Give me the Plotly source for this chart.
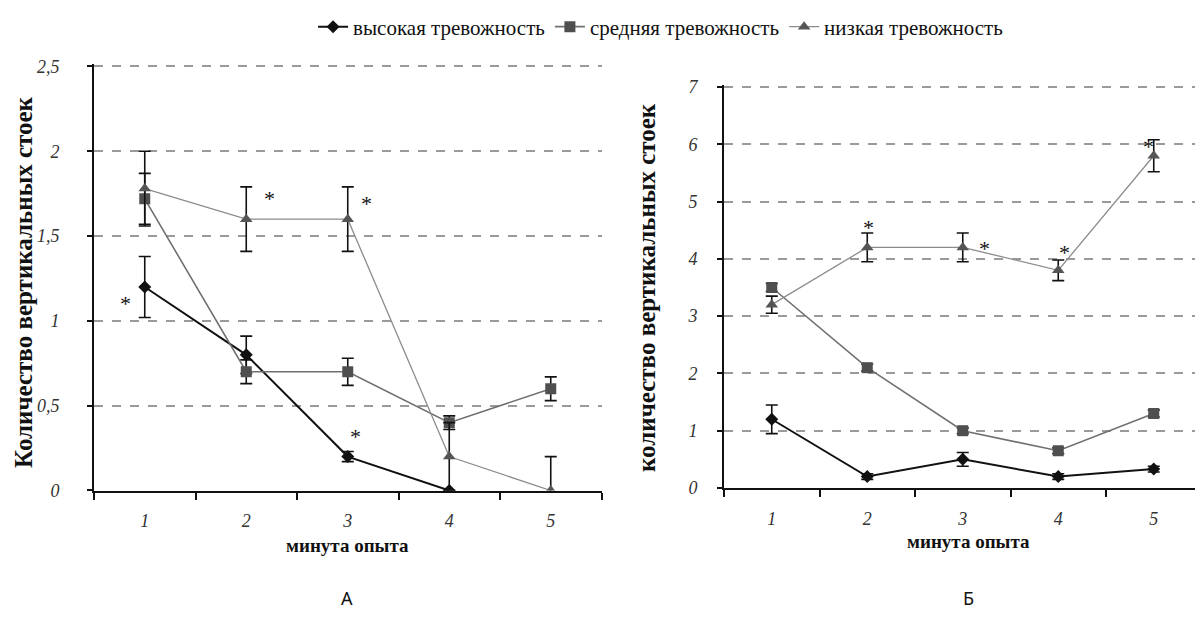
import plotly.graph_objects as go

# ---- data -------------------------------------------------------------
minutes = [1, 2, 3, 4, 5]
tick_text_x = ["1", "2", "3", "4", "5"]

series_names = ["высокая тревожность", "средняя тревожность", "низкая тревожность"]

# panel A
a_high = [1.2, 0.8, 0.2, 0.0, None]
a_high_err = [0.18, 0.11, 0.03, 0.0, 0.0]
a_mid = [1.72, 0.7, 0.7, 0.4, 0.6]
a_mid_err = [0.15, 0.07, 0.08, 0.04, 0.07]
a_low = [1.78, 1.6, 1.6, 0.2, 0.0]
a_low_err = [0.22, 0.19, 0.19, 0.2, 0.2]

# panel Б
b_high = [1.2, 0.2, 0.5, 0.2, 0.33]
b_high_err = [0.25, 0.05, 0.12, 0.05, 0.05]
b_mid = [3.5, 2.1, 1.0, 0.65, 1.3]
b_mid_err = [0.07, 0.06, 0.05, 0.05, 0.06]
b_low = [3.2, 4.2, 4.2, 3.8, 5.8]
b_low_err = [0.15, 0.25, 0.25, 0.18, 0.28]

a_yticks = [0, 0.5, 1, 1.5, 2, 2.5]
a_yticktext = ["0", "0,5", "1", "1,5", "2", "2,5"]
b_yticks = [0, 1, 2, 3, 4, 5, 6, 7]
b_yticktext = ["0", "1", "2", "3", "4", "5", "6", "7"]

# significance marks (x in minute units, y in data units)
a_stars_x = [0.81, 2.23, 3.18, 3.08]
a_stars_y = [1.13, 1.75, 1.72, 0.35]
b_stars_x = [2.01, 3.23, 4.07, 4.94]
b_stars_y = [4.64, 4.26, 4.20, 6.04]

x_title = "минута опыта"
a_ytitle = "Количество вертикальных стоек"
b_ytitle = "количество вертикальных стоек"
panel_labels = ["А", "Б"]

# ---- styles -----------------------------------------------------------
W, H = 1195, 628
SERIF = "Liberation Serif, Times New Roman, serif"
styles = [
    dict(line=dict(color="#111111", width=2.0),
         marker=dict(symbol="diamond", size=10, color="#111111")),
    dict(line=dict(color="#707070", width=1.6),
         marker=dict(symbol="square", size=11, color="#4f4f4f")),
    dict(line=dict(color="#8c8c8c", width=1.3),
         marker=dict(symbol="triangle-up", size=11, color="#555555")),
]

fig = go.Figure()


def add_panel(values, errors, xa, ya, show_legend):
    for name, vals, errs, st in zip(series_names, values, errors, styles):
        fig.add_trace(go.Scatter(
            x=minutes, y=vals, name=name, mode="lines+markers",
            line=st["line"], marker=st["marker"],
            error_y=dict(type="data", array=errs, visible=True,
                         color="#111111", thickness=1.6, width=6),
            xaxis=xa, yaxis=ya, showlegend=show_legend,
        ))


add_panel([a_high, a_mid, a_low], [a_high_err, a_mid_err, a_low_err], "x", "y", True)
add_panel([b_high, b_mid, b_low], [b_high_err, b_mid_err, b_low_err], "x2", "y2", False)

# pixel layout of the two plot areas (top edges sit just above the last grid line)
a_left, a_right, a_bottom = 94, 601.5, 490.5
a_px = 169.6           # pixels per unit, panel A
a_ymax = 2.515
b_left, b_right, b_bottom = 724, W, 488
b_px = 57.29           # pixels per unit, panel Б
b_ymax = 7.04
b_cat = 95.5


def xdom(l, r):
    return [l / W, r / W]


def ydom(b, t):
    return [(H - b) / H, (H - t) / H]


tick_font = dict(family=SERIF, size=18, color="#333333", style="italic")

common_x = dict(
    tickmode="array", tickvals=minutes, ticktext=tick_text_x,
    ticks="", showgrid=False, zeroline=False, automargin=False,
    showline=True, linecolor="#111111", linewidth=2,
    tickfont=tick_font, ticklabelstandoff=13,
    minor=dict(tickvals=[0.5, 1.5, 2.5, 3.5, 4.5, 5.5], ticks="outside",
               ticklen=7, tickwidth=1.6, tickcolor="#111111", showgrid=False),
)
common_y = dict(
    tickmode="array", ticks="outside", ticklen=5, tickwidth=1.5,
    tickcolor="#111111", showgrid=True, gridcolor="#9a9a9a", gridwidth=1.6,
    griddash="dash", zeroline=False, showline=True, linecolor="#111111",
    linewidth=2, tickfont=tick_font, automargin=False,
)

fig.update_layout(
    width=W, height=H,
    margin=dict(l=0, r=0, t=0, b=0, pad=0, autoexpand=False),
    paper_bgcolor="white", plot_bgcolor="white",
    showlegend=True,
    legend=dict(orientation="h", x=0.262, xanchor="left", y=1 - 27 / H,
                yanchor="middle", font=dict(family=SERIF, size=21, color="#111111"),
                bgcolor="rgba(0,0,0,0)", itemwidth=30, tracegroupgap=0),
    xaxis=dict(common_x, domain=xdom(a_left, a_right), range=[0.5, 5.5],
               anchor="y"),
    yaxis=dict(common_y, domain=ydom(a_bottom, a_bottom - a_ymax * a_px),
               range=[0, a_ymax], tickvals=a_yticks, ticktext=a_yticktext,
               ticklabelstandoff=24, anchor="x"),
    xaxis2=dict(common_x, domain=xdom(b_left, b_right),
                range=[0.5, 0.5 + (b_right - b_left) / b_cat], anchor="y2"),
    yaxis2=dict(common_y, domain=ydom(b_bottom, b_bottom - b_ymax * b_px),
                range=[0, b_ymax], tickvals=b_yticks, ticktext=b_yticktext,
                ticklabelstandoff=16, anchor="x2"),
)

star_font = dict(family=SERIF, size=22, color="#111111")
annotations = []
for sx, sy in zip(a_stars_x, a_stars_y):
    annotations.append(dict(x=sx, y=sy, xref="x", yref="y", text="*",
                            showarrow=False, font=star_font, yshift=-5,
                            xanchor="center", yanchor="middle"))
for sx, sy in zip(b_stars_x, b_stars_y):
    annotations.append(dict(x=sx, y=sy, xref="x2", yref="y2", text="*",
                            showarrow=False, font=star_font, yshift=-5,
                            xanchor="center", yanchor="middle"))

title_font = dict(family=SERIF, size=19, color="#111111")
label_font = dict(family="Noto Sans, Open Sans, sans-serif", size=18, color="#111111")


def paper_text(px, py, text, font, angle=0):
    return dict(x=px / W, y=1 - py / H, xref="paper", yref="paper",
                xanchor="center", yanchor="middle", text=text,
                showarrow=False, font=font, textangle=angle)


annotations += [
    paper_text((a_left + a_right) / 2, 545, "<b>" + x_title + "</b>", title_font),
    paper_text(968, 541, "<b>" + x_title + "</b>", title_font),
    paper_text(23, 282, "<b>" + a_ytitle + "</b>",
               dict(family=SERIF, size=25, color="#111111"), -90),
    paper_text(646, 288, "<b>" + b_ytitle + "</b>",
               dict(family=SERIF, size=25, color="#111111"), -90),
    paper_text(347, 598, panel_labels[0], label_font),
    paper_text(968, 598, panel_labels[1], label_font),
]
fig.update_layout(annotations=annotations)

fig.write_html("out.html")
